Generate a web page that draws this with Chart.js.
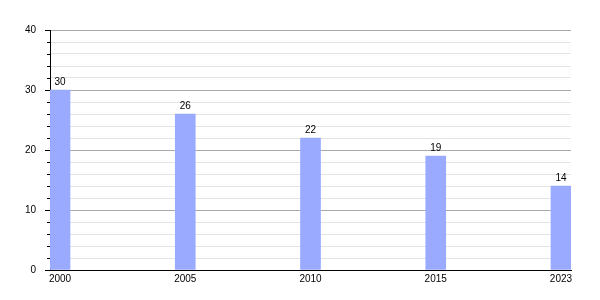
<!DOCTYPE html>
<html>
<head>
<meta charset="utf-8">
<script src="https://cdn.jsdelivr.net/npm/chart.js@4"></script>
<style>
html,body{margin:0;padding:0;background:#fff;}
#wrap{width:600px;height:300px;position:relative;}
</style>
</head>
<body>
<div id="wrap"><canvas id="c" width="600" height="300"></canvas></div>
<script>
const years = ['2000', '2005', '2010', '2015', '2023'];
const values = [30, 26, 22, 19, 14];
const yTickLabels = [0, 10, 20, 30, 40];

const FONT = 'Liberation Sans, Arial, Helvetica, sans-serif';

const valueLabels = {
  id: 'valueLabels',
  afterDatasetsDraw(chart) {
    const ctx = chart.ctx;
    const meta = chart.getDatasetMeta(0);
    ctx.save();
    ctx.font = '10px ' + FONT;
    ctx.fillStyle = '#000';
    ctx.textAlign = 'center';
    ctx.textBaseline = 'alphabetic';
    meta.data.forEach((el, i) => {
      ctx.fillText(String(values[i]), el.x, el.y - 5);
    });
    ctx.restore();
  }
};

const minorTicks = {
  id: 'minorTicks',
  afterDraw(chart) {
    const ctx = chart.ctx;
    const y = chart.scales.y;
    const left = chart.chartArea.left;
    ctx.save();
    ctx.strokeStyle = '#000';
    ctx.lineWidth = 1;
    y.ticks.forEach(t => {
      if (t.value % 10 !== 0) {
        const py = Math.round(y.getPixelForValue(t.value)) + 0.5;
        ctx.beginPath();
        ctx.moveTo(left - 3, py);
        ctx.lineTo(left, py);
        ctx.stroke();
      }
    });
    ctx.restore();
  }
};

new Chart(document.getElementById('c'), {
  type: 'bar',
  data: {
    datasets: [{
      data: values.map((v, i) => ({ x: i, y: v })),
      backgroundColor: '#99aaff',
      borderWidth: 0,
      barThickness: 20
    }]
  },
  options: {
    responsive: false,
    animation: false,
    events: [],
    layout: { padding: { top: 30, right: 29, bottom: 0, left: 0 } },
    plugins: { legend: { display: false }, tooltip: { enabled: false } },
    scales: {
      x: {
        type: 'linear',
        offset: false,
        min: -0.08,
        max: 4.08,
        afterBuildTicks(scale) {
          scale.ticks = years.map((_, i) => ({ value: i }));
        },
        afterFit(scale) { scale.height = 30; },
        grid: { display: false, drawTicks: false, offset: false },
        border: { display: true, color: '#000', width: 1 },
        ticks: {
          padding: 3,
          autoSkip: false,
          maxRotation: 0,
          color: '#000',
          font: { family: FONT, size: 10 },
          callback: (v) => years[v]
        }
      },
      y: {
        min: 0,
        max: 40,
        afterFit(scale) { scale.width = 50; },
        ticks: {
          stepSize: 2,
          autoSkip: false,
          padding: 9,
          color: '#000',
          font: { family: FONT, size: 10 },
          callback: (v) => yTickLabels.includes(v) ? String(v) : ''
        },
        grid: {
          color: (c) => (c.tick && c.tick.value % 10 === 0) ? '#aaaaaa' : '#e4e4e4',
          tickColor: (c) => (c.tick && c.tick.value % 10 === 0) ? '#000' : 'rgba(0,0,0,0)',
          tickLength: 5,
          lineWidth: 1
        },
        border: { display: true, color: '#000', width: 1 }
      }
    }
  },
  plugins: [valueLabels, minorTicks]
});
</script>
</body>
</html>
